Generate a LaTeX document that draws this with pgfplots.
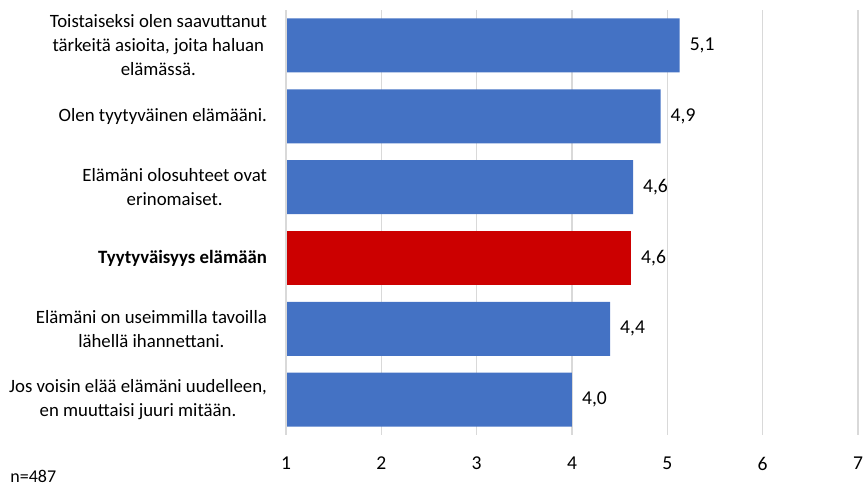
\documentclass[border=0pt]{standalone}
\usepackage{fontspec}
\setmainfont{Carlito}
\usepackage{pgfplots}
\pgfplotsset{compat=1.18}
\definecolor{barblue}{HTML}{4472C4}
\definecolor{barred}{HTML}{CC0000}
\definecolor{gridgray}{HTML}{D9D9D9}
\begin{document}
\begin{tikzpicture}
\path (0,0) rectangle (433.5pt,243pt);
\begin{axis}[
    at={(143pt,25.5pt)}, anchor=south west,
    scale only axis,
    width=286pt, height=212.5pt,
    xbar, bar width=27pt, bar shift=0pt,
    xmin=1, xmax=7,
    xtick={1,2,3,4,5,6,7},
    ymin=-0.5, ymax=5.5,
    y dir=reverse,
    ytick={0,1,2,3,4,5},
    yticklabels={
        {Toistaiseksi olen saavuttanut\\tärkeitä asioita, joita haluan\\elämässä.},
        {Olen tyytyväinen elämääni.},
        {Elämäni olosuhteet ovat\\erinomaiset.},
        {\textbf{Tyytyväisyys elämään}},
        {Elämäni on useimmilla tavoilla\\lähellä ihannettani.},
        {Jos voisin elää elämäni uudelleen,\\en muuttaisi juuri mitään.}},
    yticklabel style={align=center, font=\fontsize{9.4}{12}\selectfont, xshift=-6pt},
    xticklabel style={font=\fontsize{9.8}{12}\selectfont, inner xsep=0pt, yshift=-7.5pt},
    /pgf/number format/assume math mode=true,
    major tick length=0pt,
    xmajorgrids, grid style={gridgray, line width=0.6pt},
    axis line style={draw=none},
    nodes near coords,
    nodes near coords style={font=\fontsize{9.8}{12}\selectfont, anchor=west, xshift=1.5pt,
        /pgf/number format/.cd, fixed, fixed zerofill, precision=1, use comma},
]
\addplot[fill=barblue, draw=none] coordinates {(5.13,0) (4.93,1) (4.64,2) (4.40,4) (4.00,5)};
\addplot[fill=barred, draw=none] coordinates {(4.62,3)};
\draw[gridgray, line width=0.6pt] (axis cs:1,-0.5) -- (axis cs:1,5.5);
\end{axis}
\node[anchor=base west, font=\fontsize{9}{10}\selectfont, inner sep=0pt] at (5pt,1.5pt) {n=487};
\end{tikzpicture}
\end{document}
